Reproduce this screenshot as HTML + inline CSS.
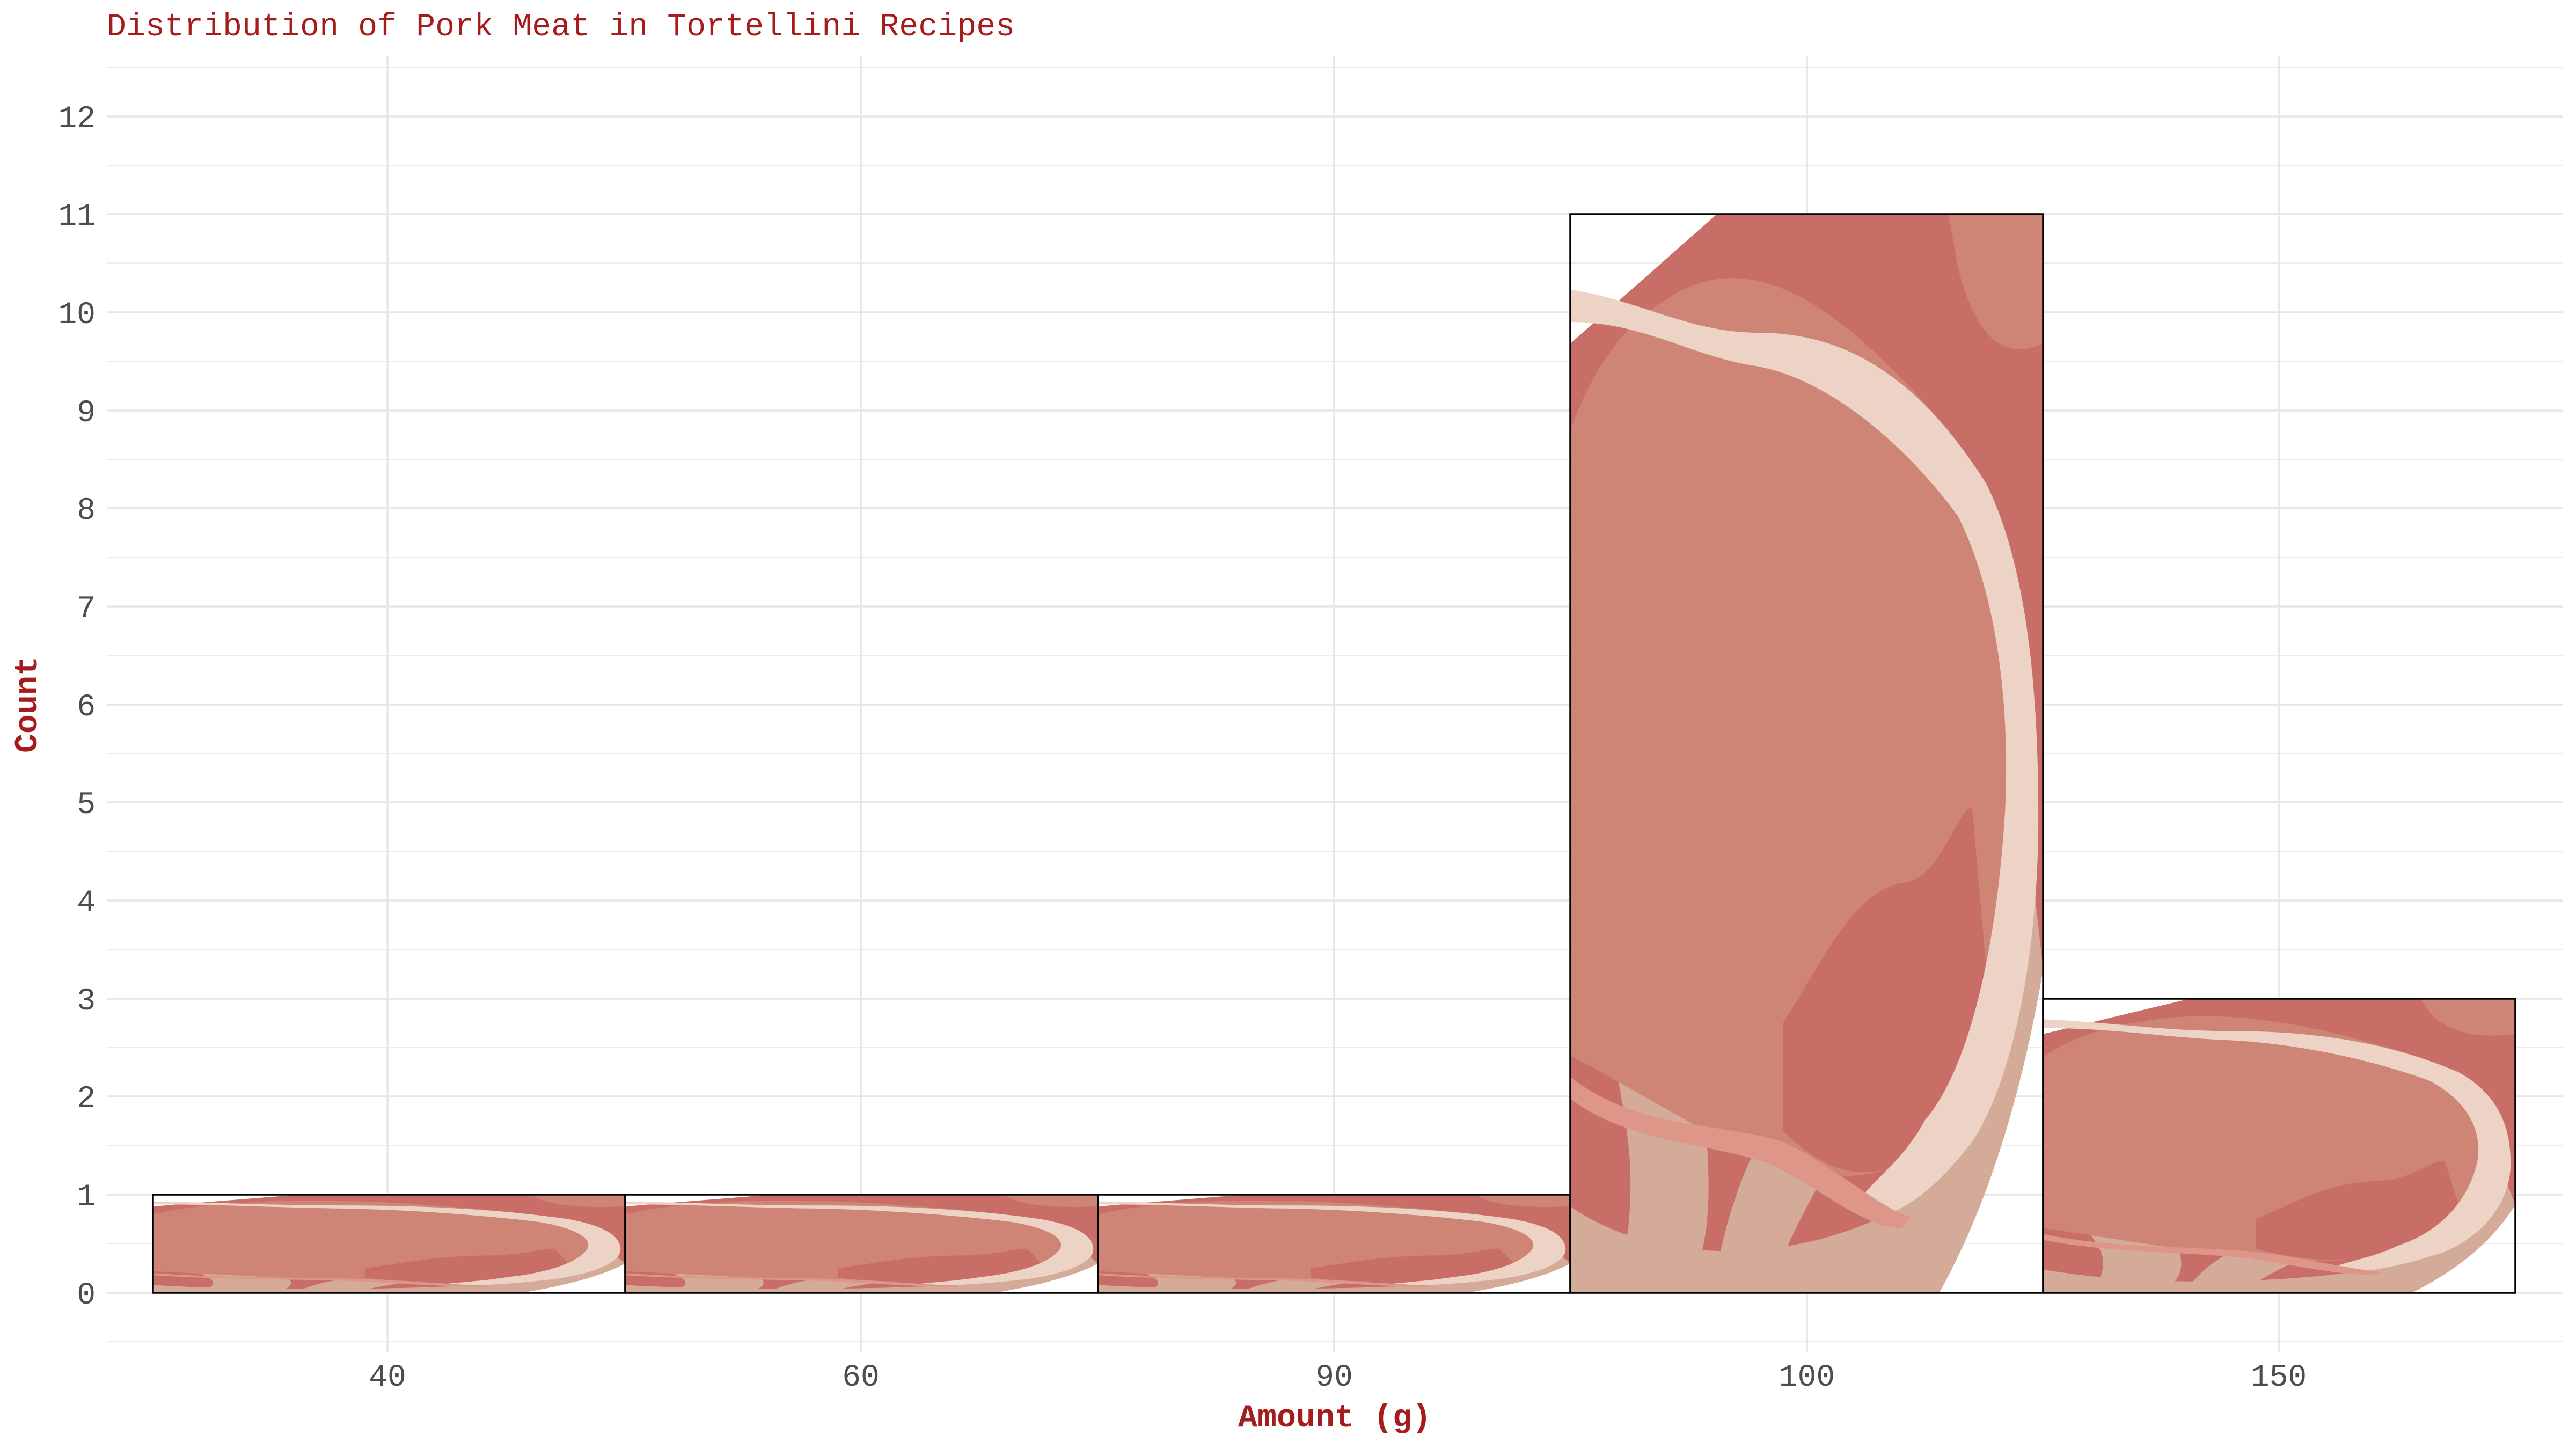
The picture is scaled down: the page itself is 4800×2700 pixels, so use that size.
<!DOCTYPE html>
<html><head><meta charset="utf-8"><style>
html,body{margin:0;padding:0;background:#fff;}
svg{display:block;}
</style></head><body>
<svg width="4800" height="2700" viewBox="0 0 4800 2700" xmlns="http://www.w3.org/2000/svg">
<defs>
<symbol id="meat" viewBox="0 0 100 100" preserveAspectRatio="none">
  <path d="M0,12 L31,0 L100,0 L100,70 C95,83 87,93 78,100 L0,100 Z" fill="#c96e66"/>
  <path d="M0,100 L0,92 C20,98 50,97 70,92 C85,85 93,75 98,62 L100,70 C95,83 87,93 78,100 Z" fill="#d3ab98"/>
  <path d="M10,100 C15,90 12,85 10,80 L28,82 C30,90 30,95 25,100 Z" fill="#d3ab98"/>
  <path d="M30,100 C32,95 35,90 40,86 L55,88 C50,92 45,96 42,100 Z" fill="#d3ab98"/>
  <path d="M20,8 C40,2 60,10 80,20 C90,28 96,40 97,55 C96,70 88,82 70,88 C50,92 30,85 0,78 L0,20 C5,14 12,10 20,8 Z" fill="#cf8575"/>
  <path d="M22,0 L100,0 L100,12 C90,14 85,10 82,5 L80,0 Z" fill="#cf8575"/>
  <path d="M45,75 C55,68 60,63 70,62 C78,62 82,55 85,55 L88,70 C84,80 78,85 70,88 C60,90 52,88 45,85 Z" fill="#c96e66"/>
  <path d="M0,7 C15,8 25,11 40,11 C60,11 75,16 88,25 C97,33 99,45 99,56 C99,68 94,80 85,86 C78,90 70,93 63,93 L60,92 C65,89 70,88 75,84 C83,80 90,70 92,55 C93,45 90,35 82,28 C72,22 55,15 38,14 C25,13 15,10 0,10 Z" fill="#ecd3c5"/>
  <path d="M0,80 C15,85 30,84 45,86 C55,88 65,92 72,93 L70,94 C62,94 52,90 42,88 C28,86 12,86 0,82 Z" fill="#dd9688"/>
</symbol>
</defs>
<g stroke="#ececec" stroke-width="2">
  <line x1="199" x2="4775" y1="2500" y2="2500"/>
  <line x1="199" x2="4775" y1="2317" y2="2317"/>
  <line x1="199" x2="4775" y1="2135" y2="2135"/>
  <line x1="199" x2="4775" y1="1952" y2="1952"/>
  <line x1="199" x2="4775" y1="1769" y2="1769"/>
  <line x1="199" x2="4775" y1="1586" y2="1586"/>
  <line x1="199" x2="4775" y1="1404" y2="1404"/>
  <line x1="199" x2="4775" y1="1221" y2="1221"/>
  <line x1="199" x2="4775" y1="1038" y2="1038"/>
  <line x1="199" x2="4775" y1="856" y2="856"/>
  <line x1="199" x2="4775" y1="673" y2="673"/>
  <line x1="199" x2="4775" y1="490" y2="490"/>
  <line x1="199" x2="4775" y1="308" y2="308"/>
  <line x1="199" x2="4775" y1="125" y2="125"/>
</g>
<g stroke="#e6e6e6" stroke-width="3.5">
  <line x1="199" x2="4775" y1="2409" y2="2409"/>
  <line x1="199" x2="4775" y1="2226" y2="2226"/>
  <line x1="199" x2="4775" y1="2043" y2="2043"/>
  <line x1="199" x2="4775" y1="1861" y2="1861"/>
  <line x1="199" x2="4775" y1="1678" y2="1678"/>
  <line x1="199" x2="4775" y1="1495" y2="1495"/>
  <line x1="199" x2="4775" y1="1313" y2="1313"/>
  <line x1="199" x2="4775" y1="1130" y2="1130"/>
  <line x1="199" x2="4775" y1="947" y2="947"/>
  <line x1="199" x2="4775" y1="765" y2="765"/>
  <line x1="199" x2="4775" y1="582" y2="582"/>
  <line x1="199" x2="4775" y1="399" y2="399"/>
  <line x1="199" x2="4775" y1="217" y2="217"/>
  <line x1="722" x2="722" y1="105" y2="2520"/>
  <line x1="1604" x2="1604" y1="105" y2="2520"/>
  <line x1="2486" x2="2486" y1="105" y2="2520"/>
  <line x1="3367" x2="3367" y1="105" y2="2520"/>
  <line x1="4246" x2="4246" y1="105" y2="2520"/>
</g>
<use href="#meat" x="285" y="2226" width="880" height="183"/>
<use href="#meat" x="1165" y="2226" width="881" height="183"/>
<use href="#meat" x="2046" y="2226" width="880" height="183"/>
<use href="#meat" x="2926" y="399" width="881" height="2010"/>
<use href="#meat" x="3807" y="1861" width="880" height="548"/>
<g fill="none" stroke="#000" stroke-width="3.5">
  <rect x="285" y="2226" width="880" height="183"/>
  <rect x="1165" y="2226" width="881" height="183"/>
  <rect x="2046" y="2226" width="880" height="183"/>
  <rect x="2926" y="399" width="881" height="2010"/>
  <rect x="3807" y="1861" width="880" height="548"/>
</g>
<g font-family="Liberation Mono, monospace" font-size="58" fill="#4d4d4d" text-anchor="end">
  <text x="178" y="2429">0</text>
  <text x="178" y="2246">1</text>
  <text x="178" y="2063">2</text>
  <text x="178" y="1881">3</text>
  <text x="178" y="1698">4</text>
  <text x="178" y="1515">5</text>
  <text x="178" y="1333">6</text>
  <text x="178" y="1150">7</text>
  <text x="178" y="967">8</text>
  <text x="178" y="785">9</text>
  <text x="178" y="602">10</text>
  <text x="178" y="419">11</text>
  <text x="178" y="237">12</text>
</g>
<g font-family="Liberation Mono, monospace" font-size="58" fill="#4d4d4d" text-anchor="middle">
  <text x="722" y="2582">40</text>
  <text x="1604" y="2582">60</text>
  <text x="2486" y="2582">90</text>
  <text x="3367" y="2582">100</text>
  <text x="4246" y="2582">150</text>
</g>
<text x="2487" y="2658" font-family="Liberation Mono, monospace" font-size="60" font-weight="bold" fill="#a51c1c" text-anchor="middle">Amount (g)</text>
<text transform="translate(68,1313) rotate(-90)" font-family="Liberation Mono, monospace" font-size="60" font-weight="bold" fill="#a51c1c" text-anchor="middle">Count</text>
<text x="199" y="66" font-family="Liberation Mono, monospace" font-size="60" fill="#a51c1c">Distribution of Pork Meat in Tortellini Recipes</text>
</svg>
</body></html>
